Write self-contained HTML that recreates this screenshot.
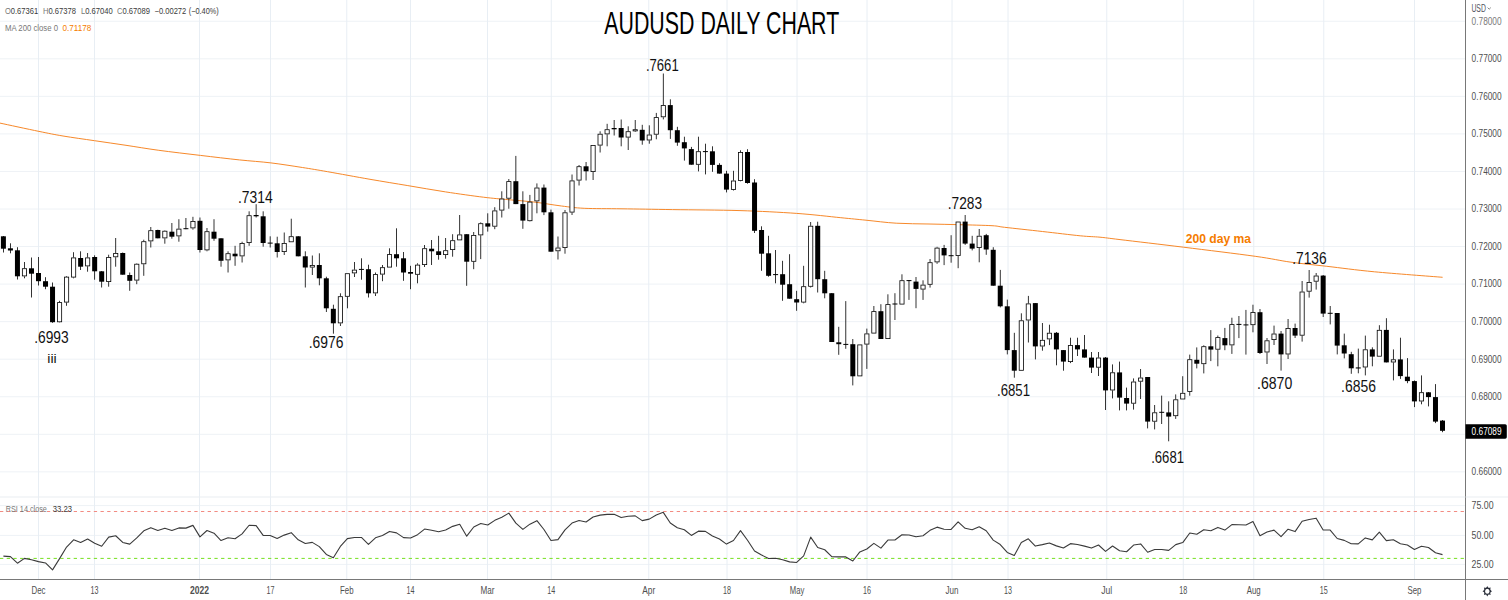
<!DOCTYPE html>
<html><head><meta charset="utf-8"><title>AUDUSD Daily Chart</title>
<style>
html,body{margin:0;padding:0;background:#fff;overflow:hidden}
svg{display:block}
.gh{stroke:#eef2f6;stroke-width:1}
.gv{stroke:#e8eef4;stroke-width:1}
text{font-family:"Liberation Sans",sans-serif}
.ax text,.ax{font-size:10px;fill:#4f4f4f}
.tx text{font-size:10.6px;fill:#4f4f4f}
.lg{font-size:8.6px;fill:#3a3a3a}
.lk{fill:#777}
.an text,.an{font-size:16.8px;fill:#111}
</style></head>
<body><svg width="1508" height="600" viewBox="0 0 1508 600">
<rect width="1508" height="600" fill="#fff"/>
<line x1="0" y1="21.25" x2="1465.0" y2="21.25" class="gh"/>
<line x1="0" y1="58.8" x2="1465.0" y2="58.8" class="gh"/>
<line x1="0" y1="96.35" x2="1465.0" y2="96.35" class="gh"/>
<line x1="0" y1="133.9" x2="1465.0" y2="133.9" class="gh"/>
<line x1="0" y1="171.45" x2="1465.0" y2="171.45" class="gh"/>
<line x1="0" y1="209" x2="1465.0" y2="209" class="gh"/>
<line x1="0" y1="246.55" x2="1465.0" y2="246.55" class="gh"/>
<line x1="0" y1="284.1" x2="1465.0" y2="284.1" class="gh"/>
<line x1="0" y1="321.65" x2="1465.0" y2="321.65" class="gh"/>
<line x1="0" y1="359.2" x2="1465.0" y2="359.2" class="gh"/>
<line x1="0" y1="396.75" x2="1465.0" y2="396.75" class="gh"/>
<line x1="0" y1="434.3" x2="1465.0" y2="434.3" class="gh"/>
<line x1="0" y1="471.85" x2="1465.0" y2="471.85" class="gh"/>
<line x1="0" y1="505.6" x2="1465.0" y2="505.6" class="gh"/>
<line x1="0" y1="535.4" x2="1465.0" y2="535.4" class="gh"/>
<line x1="0" y1="564.4" x2="1465.0" y2="564.4" class="gh"/>
<line x1="38.5" y1="0" x2="38.5" y2="579.0" class="gv"/>
<line x1="94.5" y1="0" x2="94.5" y2="579.0" class="gv"/>
<line x1="199.5" y1="0" x2="199.5" y2="579.0" class="gv"/>
<line x1="270.5" y1="0" x2="270.5" y2="579.0" class="gv"/>
<line x1="346.75" y1="0" x2="346.75" y2="579.0" class="gv"/>
<line x1="410.5" y1="0" x2="410.5" y2="579.0" class="gv"/>
<line x1="487.5" y1="0" x2="487.5" y2="579.0" class="gv"/>
<line x1="551.25" y1="0" x2="551.25" y2="579.0" class="gv"/>
<line x1="648.75" y1="0" x2="648.75" y2="579.0" class="gv"/>
<line x1="727" y1="0" x2="727" y2="579.0" class="gv"/>
<line x1="797" y1="0" x2="797" y2="579.0" class="gv"/>
<line x1="867" y1="0" x2="867" y2="579.0" class="gv"/>
<line x1="952" y1="0" x2="952" y2="579.0" class="gv"/>
<line x1="1008" y1="0" x2="1008" y2="579.0" class="gv"/>
<line x1="1106.75" y1="0" x2="1106.75" y2="579.0" class="gv"/>
<line x1="1183.25" y1="0" x2="1183.25" y2="579.0" class="gv"/>
<line x1="1253.75" y1="0" x2="1253.75" y2="579.0" class="gv"/>
<line x1="1323.75" y1="0" x2="1323.75" y2="579.0" class="gv"/>
<line x1="1414.5" y1="0" x2="1414.5" y2="579.0" class="gv"/>
<line x1="0" y1="497" x2="1508" y2="497" stroke="#eaedf1" stroke-width="1.2"/>
<line x1="0" y1="511.5" x2="1465.0" y2="511.5" stroke="#f28b82" stroke-width="1" stroke-dasharray="3.3 3.4"/>
<line x1="0" y1="558.4" x2="1465.0" y2="558.4" stroke="#76e020" stroke-width="1" stroke-dasharray="3.3 3.4"/>
<path fill="none" stroke="#f5821f" stroke-width="0.95" d="M0.0,123.10 C6.5,124.48 28.5,129.25 39.0,131.40 C49.5,133.55 53.8,134.45 63.0,136.00 C72.2,137.55 84.0,139.15 94.5,140.70 C105.0,142.25 115.3,143.70 126.0,145.30 C136.7,146.90 146.4,148.62 158.8,150.30 C171.2,151.98 187.0,153.80 200.4,155.40 C213.8,157.00 227.7,158.65 239.4,159.90 C251.2,161.15 260.4,161.63 270.9,162.90 C281.4,164.17 292.9,166.03 302.4,167.50 C311.8,168.97 316.3,169.73 327.6,171.70 C338.9,173.67 356.6,176.98 370.0,179.30 C383.4,181.62 395.2,183.50 407.8,185.60 C420.4,187.70 433.0,189.97 445.6,191.90 C458.2,193.83 472.9,195.90 483.4,197.20 C493.9,198.50 500.2,198.90 508.6,199.70 C517.0,200.50 525.0,200.95 533.8,202.00 C542.6,203.05 553.1,204.95 561.5,206.00 C569.9,207.05 574.1,207.83 584.2,208.30 C594.3,208.77 607.3,208.58 622.0,208.80 C636.7,209.02 652.7,209.30 672.4,209.60 C692.1,209.90 719.3,209.97 740.0,210.60 C760.7,211.23 779.9,212.22 796.7,213.40 C813.5,214.58 829.2,216.57 840.8,217.70 C852.3,218.83 856.8,219.28 866.0,220.20 C875.2,221.12 885.7,222.57 896.2,223.20 C906.7,223.83 918.5,223.75 929.0,224.00 C939.5,224.25 948.8,224.42 959.3,224.70 C969.8,224.98 984.5,225.27 992.0,225.70 C999.5,226.13 996.2,226.33 1004.6,227.30 C1013.0,228.27 1029.8,230.08 1042.4,231.50 C1055.0,232.92 1070.6,234.85 1080.2,235.80 C1089.8,236.75 1093.4,236.57 1100.0,237.20 C1106.6,237.83 1106.1,237.93 1120.0,239.60 C1133.9,241.27 1161.0,244.42 1183.5,247.20 C1206.0,249.98 1237.3,253.80 1255.2,256.30 C1273.1,258.80 1279.1,260.53 1291.0,262.20 C1302.9,263.87 1312.9,264.70 1326.8,266.30 C1340.7,267.90 1355.2,269.97 1374.5,271.80 C1393.8,273.63 1431.2,276.38 1442.6,277.30"/>
<g fill="#000"><rect x="3.00" y="236.0" width="0.8" height="16.5"/><rect x="0.90" y="236.3" width="5.0" height="12.4"/><rect x="10.02" y="243.3" width="0.8" height="10.0"/><rect x="7.92" y="248.3" width="5.0" height="2.2"/><rect x="17.04" y="247.2" width="0.8" height="32.3"/><rect x="14.94" y="250.3" width="5.0" height="26.0"/><rect x="24.06" y="262.0" width="0.8" height="6.3"/><rect x="24.06" y="276.3" width="0.8" height="2.0"/><rect x="21.96" y="268.3" width="5.0" height="8.0"/><rect x="22.76" y="269.1" width="3.4" height="6.4" fill="#fff"/><rect x="31.08" y="257.5" width="0.8" height="40.0"/><rect x="28.98" y="268.3" width="5.0" height="5.4"/><rect x="38.10" y="257.0" width="0.8" height="28.5"/><rect x="36.00" y="273.0" width="5.0" height="8.2"/><rect x="45.12" y="277.2" width="0.8" height="12.0"/><rect x="43.02" y="281.2" width="5.0" height="5.5"/><rect x="52.14" y="282.5" width="0.8" height="40.3"/><rect x="50.04" y="286.7" width="5.0" height="35.5"/><rect x="59.16" y="300.8" width="0.8" height="1.4"/><rect x="59.16" y="322.2" width="0.8" height="0.3"/><rect x="57.06" y="302.2" width="5.0" height="20.0"/><rect x="57.86" y="303.0" width="3.4" height="18.4" fill="#fff"/><rect x="66.18" y="276.0" width="0.8" height="0.7"/><rect x="66.18" y="302.5" width="0.8" height="3.3"/><rect x="64.08" y="276.7" width="5.0" height="25.8"/><rect x="64.88" y="277.5" width="3.4" height="24.2" fill="#fff"/><rect x="73.20" y="252.2" width="0.8" height="5.3"/><rect x="73.20" y="277.5" width="0.8" height="0.8"/><rect x="71.10" y="257.5" width="5.0" height="20.0"/><rect x="71.90" y="258.3" width="3.4" height="18.4" fill="#fff"/><rect x="80.22" y="251.3" width="0.8" height="18.7"/><rect x="78.12" y="258.0" width="5.0" height="8.7"/><rect x="87.24" y="253.0" width="0.8" height="4.5"/><rect x="87.24" y="266.3" width="0.8" height="5.4"/><rect x="85.14" y="257.5" width="5.0" height="8.8"/><rect x="85.94" y="258.3" width="3.4" height="7.2" fill="#fff"/><rect x="94.26" y="255.3" width="0.8" height="24.4"/><rect x="92.16" y="257.0" width="5.0" height="14.3"/><rect x="101.28" y="271.0" width="0.8" height="16.5"/><rect x="99.18" y="271.3" width="5.0" height="10.4"/><rect x="108.30" y="254.7" width="0.8" height="2.3"/><rect x="108.30" y="282.0" width="0.8" height="4.7"/><rect x="106.20" y="257.0" width="5.0" height="25.0"/><rect x="107.00" y="257.8" width="3.4" height="23.4" fill="#fff"/><rect x="115.32" y="238.0" width="0.8" height="15.0"/><rect x="115.32" y="257.2" width="0.8" height="9.5"/><rect x="113.22" y="253.0" width="5.0" height="4.2"/><rect x="114.02" y="253.8" width="3.4" height="2.6" fill="#fff"/><rect x="122.34" y="252.5" width="0.8" height="22.2"/><rect x="120.24" y="253.0" width="5.0" height="21.7"/><rect x="129.36" y="272.5" width="0.8" height="18.3"/><rect x="127.26" y="275.0" width="5.0" height="5.8"/><rect x="136.38" y="263.3" width="0.8" height="0.5"/><rect x="136.38" y="280.5" width="0.8" height="3.7"/><rect x="134.28" y="263.8" width="5.0" height="16.7"/><rect x="135.08" y="264.6" width="3.4" height="15.1" fill="#fff"/><rect x="143.40" y="239.7" width="0.8" height="1.6"/><rect x="143.40" y="264.2" width="0.8" height="11.6"/><rect x="141.30" y="241.3" width="5.0" height="22.9"/><rect x="142.10" y="242.1" width="3.4" height="21.3" fill="#fff"/><rect x="150.42" y="227.0" width="0.8" height="3.3"/><rect x="150.42" y="241.3" width="0.8" height="6.2"/><rect x="148.32" y="230.3" width="5.0" height="11.0"/><rect x="149.12" y="231.1" width="3.4" height="9.4" fill="#fff"/><rect x="157.44" y="229.7" width="0.8" height="8.6"/><rect x="155.34" y="230.0" width="5.0" height="8.3"/><rect x="164.46" y="230.3" width="0.8" height="0.5"/><rect x="164.46" y="238.3" width="0.8" height="5.4"/><rect x="162.36" y="230.8" width="5.0" height="7.5"/><rect x="163.16" y="231.6" width="3.4" height="5.9" fill="#fff"/><rect x="171.48" y="223.0" width="0.8" height="15.7"/><rect x="169.38" y="231.7" width="5.0" height="5.0"/><rect x="178.50" y="219.2" width="0.8" height="9.5"/><rect x="178.50" y="236.3" width="0.8" height="5.4"/><rect x="176.40" y="228.7" width="5.0" height="7.6"/><rect x="177.20" y="229.5" width="3.4" height="6.0" fill="#fff"/><rect x="185.52" y="218.0" width="0.8" height="11.2"/><rect x="183.42" y="228.2" width="5.0" height="1.0"/><rect x="192.54" y="216.8" width="0.8" height="4.2"/><rect x="192.54" y="228.3" width="0.8" height="1.4"/><rect x="190.44" y="221.0" width="5.0" height="7.3"/><rect x="191.24" y="221.8" width="3.4" height="5.7" fill="#fff"/><rect x="199.56" y="217.5" width="0.8" height="35.0"/><rect x="197.46" y="220.8" width="5.0" height="29.2"/><rect x="206.58" y="228.0" width="0.8" height="3.3"/><rect x="206.58" y="250.3" width="0.8" height="1.0"/><rect x="204.48" y="231.3" width="5.0" height="19.0"/><rect x="205.28" y="232.1" width="3.4" height="17.4" fill="#fff"/><rect x="213.60" y="219.2" width="0.8" height="21.6"/><rect x="211.50" y="231.7" width="5.0" height="7.0"/><rect x="220.62" y="238.3" width="0.8" height="28.4"/><rect x="218.52" y="238.3" width="5.0" height="22.5"/><rect x="227.64" y="251.3" width="0.8" height="2.0"/><rect x="227.64" y="260.3" width="0.8" height="12.2"/><rect x="225.54" y="253.3" width="5.0" height="7.0"/><rect x="226.34" y="254.1" width="3.4" height="5.4" fill="#fff"/><rect x="234.66" y="245.8" width="0.8" height="20.0"/><rect x="232.56" y="253.7" width="5.0" height="2.6"/><rect x="241.68" y="241.7" width="0.8" height="1.3"/><rect x="241.68" y="256.3" width="0.8" height="6.2"/><rect x="239.58" y="243.0" width="5.0" height="13.3"/><rect x="240.38" y="243.8" width="3.4" height="11.7" fill="#fff"/><rect x="248.70" y="211.3" width="0.8" height="4.0"/><rect x="248.70" y="243.0" width="0.8" height="2.8"/><rect x="246.60" y="215.3" width="5.0" height="27.7"/><rect x="247.40" y="216.1" width="3.4" height="26.1" fill="#fff"/><rect x="255.72" y="204.2" width="0.8" height="13.3"/><rect x="253.62" y="215.0" width="5.0" height="1.3"/><rect x="262.74" y="211.3" width="0.8" height="35.4"/><rect x="260.64" y="216.3" width="5.0" height="26.7"/><rect x="269.76" y="236.3" width="0.8" height="11.2"/><rect x="267.66" y="242.6" width="5.0" height="1.0"/><rect x="276.78" y="236.7" width="0.8" height="20.8"/><rect x="274.68" y="243.3" width="5.0" height="8.7"/><rect x="283.80" y="232.5" width="0.8" height="10.5"/><rect x="283.80" y="252.0" width="0.8" height="3.0"/><rect x="281.70" y="243.0" width="5.0" height="9.0"/><rect x="282.50" y="243.8" width="3.4" height="7.4" fill="#fff"/><rect x="290.82" y="218.7" width="0.8" height="17.6"/><rect x="288.72" y="236.3" width="5.0" height="5.9"/><rect x="289.52" y="237.1" width="3.4" height="4.3" fill="#fff"/><rect x="297.84" y="236.0" width="0.8" height="20.3"/><rect x="295.74" y="236.3" width="5.0" height="20.0"/><rect x="304.86" y="251.3" width="0.8" height="36.2"/><rect x="302.76" y="256.3" width="5.0" height="11.2"/><rect x="311.88" y="255.5" width="0.8" height="9.5"/><rect x="311.88" y="267.5" width="0.8" height="7.5"/><rect x="309.78" y="265.0" width="5.0" height="2.5"/><rect x="310.58" y="265.8" width="3.4" height="0.9" fill="#fff"/><rect x="318.90" y="253.3" width="0.8" height="32.0"/><rect x="316.80" y="265.0" width="5.0" height="13.3"/><rect x="325.92" y="276.7" width="0.8" height="35.3"/><rect x="323.82" y="278.3" width="5.0" height="30.0"/><rect x="332.94" y="304.7" width="0.8" height="29.0"/><rect x="330.84" y="308.8" width="5.0" height="14.5"/><rect x="339.96" y="293.3" width="0.8" height="3.0"/><rect x="339.96" y="323.3" width="0.8" height="2.7"/><rect x="337.86" y="296.3" width="5.0" height="27.0"/><rect x="338.66" y="297.1" width="3.4" height="25.4" fill="#fff"/><rect x="346.98" y="296.7" width="0.8" height="11.6"/><rect x="344.88" y="273.3" width="5.0" height="23.4"/><rect x="345.68" y="274.1" width="3.4" height="21.8" fill="#fff"/><rect x="354.00" y="262.0" width="0.8" height="7.7"/><rect x="354.00" y="273.3" width="0.8" height="3.7"/><rect x="351.90" y="269.7" width="5.0" height="3.6"/><rect x="352.70" y="270.5" width="3.4" height="2.0" fill="#fff"/><rect x="361.02" y="258.3" width="0.8" height="21.4"/><rect x="358.92" y="268.9" width="5.0" height="1.0"/><rect x="368.04" y="264.7" width="0.8" height="32.8"/><rect x="365.94" y="269.2" width="5.0" height="24.1"/><rect x="375.06" y="272.5" width="0.8" height="1.7"/><rect x="375.06" y="293.3" width="0.8" height="2.7"/><rect x="372.96" y="274.2" width="5.0" height="19.1"/><rect x="373.76" y="275.0" width="3.4" height="17.5" fill="#fff"/><rect x="382.08" y="265.0" width="0.8" height="2.3"/><rect x="382.08" y="274.5" width="0.8" height="6.7"/><rect x="379.98" y="267.3" width="5.0" height="7.2"/><rect x="380.78" y="268.1" width="3.4" height="5.6" fill="#fff"/><rect x="389.10" y="248.3" width="0.8" height="5.9"/><rect x="387.00" y="254.2" width="5.0" height="13.3"/><rect x="387.80" y="255.0" width="3.4" height="11.7" fill="#fff"/><rect x="396.12" y="228.3" width="0.8" height="38.4"/><rect x="394.02" y="254.2" width="5.0" height="4.1"/><rect x="403.14" y="252.0" width="0.8" height="28.8"/><rect x="401.04" y="258.3" width="5.0" height="14.2"/><rect x="410.16" y="265.8" width="0.8" height="23.4"/><rect x="408.06" y="272.0" width="5.0" height="1.7"/><rect x="417.18" y="263.3" width="0.8" height="1.4"/><rect x="417.18" y="274.7" width="0.8" height="8.6"/><rect x="415.08" y="264.7" width="5.0" height="10.0"/><rect x="415.88" y="265.5" width="3.4" height="8.4" fill="#fff"/><rect x="424.20" y="245.0" width="0.8" height="3.3"/><rect x="424.20" y="265.0" width="0.8" height="2.0"/><rect x="422.10" y="248.3" width="5.0" height="16.7"/><rect x="422.90" y="249.1" width="3.4" height="15.1" fill="#fff"/><rect x="431.22" y="240.0" width="0.8" height="25.0"/><rect x="429.12" y="248.7" width="5.0" height="2.6"/><rect x="438.24" y="235.8" width="0.8" height="23.9"/><rect x="436.14" y="251.3" width="5.0" height="3.7"/><rect x="445.26" y="238.0" width="0.8" height="12.3"/><rect x="445.26" y="255.0" width="0.8" height="3.7"/><rect x="443.16" y="250.3" width="5.0" height="4.7"/><rect x="443.96" y="251.1" width="3.4" height="3.1" fill="#fff"/><rect x="452.28" y="234.2" width="0.8" height="6.1"/><rect x="452.28" y="250.0" width="0.8" height="6.7"/><rect x="450.18" y="240.3" width="5.0" height="9.7"/><rect x="450.98" y="241.1" width="3.4" height="8.1" fill="#fff"/><rect x="459.30" y="215.0" width="0.8" height="19.5"/><rect x="457.20" y="234.5" width="5.0" height="5.8"/><rect x="458.00" y="235.3" width="3.4" height="4.2" fill="#fff"/><rect x="466.32" y="234.2" width="0.8" height="51.6"/><rect x="464.22" y="234.2" width="5.0" height="27.5"/><rect x="473.34" y="232.0" width="0.8" height="3.0"/><rect x="473.34" y="261.7" width="0.8" height="7.5"/><rect x="471.24" y="235.0" width="5.0" height="26.7"/><rect x="472.04" y="235.8" width="3.4" height="25.1" fill="#fff"/><rect x="480.36" y="222.4" width="0.8" height="0.9"/><rect x="480.36" y="235.3" width="0.8" height="23.8"/><rect x="478.26" y="223.3" width="5.0" height="12.0"/><rect x="479.06" y="224.1" width="3.4" height="10.4" fill="#fff"/><rect x="487.38" y="213.3" width="0.8" height="18.3"/><rect x="485.28" y="223.3" width="5.0" height="3.3"/><rect x="494.40" y="207.2" width="0.8" height="3.3"/><rect x="494.40" y="226.6" width="0.8" height="2.6"/><rect x="492.30" y="210.5" width="5.0" height="16.1"/><rect x="493.10" y="211.3" width="3.4" height="14.5" fill="#fff"/><rect x="501.42" y="191.3" width="0.8" height="7.3"/><rect x="501.42" y="210.5" width="0.8" height="7.0"/><rect x="499.32" y="198.6" width="5.0" height="11.9"/><rect x="500.12" y="199.4" width="3.4" height="10.3" fill="#fff"/><rect x="508.44" y="179.0" width="0.8" height="2.2"/><rect x="508.44" y="198.6" width="0.8" height="10.1"/><rect x="506.34" y="181.2" width="5.0" height="17.4"/><rect x="507.14" y="182.0" width="3.4" height="15.8" fill="#fff"/><rect x="515.46" y="155.9" width="0.8" height="48.2"/><rect x="513.36" y="181.2" width="5.0" height="22.9"/><rect x="522.48" y="191.3" width="0.8" height="37.5"/><rect x="520.38" y="204.1" width="5.0" height="16.5"/><rect x="529.50" y="194.9" width="0.8" height="6.8"/><rect x="529.50" y="221.1" width="0.8" height="0.4"/><rect x="527.40" y="201.7" width="5.0" height="19.4"/><rect x="528.20" y="202.5" width="3.4" height="17.8" fill="#fff"/><rect x="536.52" y="183.4" width="0.8" height="4.2"/><rect x="536.52" y="201.3" width="0.8" height="12.0"/><rect x="534.42" y="187.6" width="5.0" height="13.7"/><rect x="535.22" y="188.4" width="3.4" height="12.1" fill="#fff"/><rect x="543.54" y="184.5" width="0.8" height="30.6"/><rect x="541.44" y="187.6" width="5.0" height="24.7"/><rect x="550.56" y="209.6" width="0.8" height="42.1"/><rect x="548.46" y="212.3" width="5.0" height="39.4"/><rect x="557.58" y="236.5" width="0.8" height="11.1"/><rect x="557.58" y="251.2" width="0.8" height="8.3"/><rect x="555.48" y="247.6" width="5.0" height="3.6"/><rect x="556.28" y="248.4" width="3.4" height="2.0" fill="#fff"/><rect x="564.60" y="210.0" width="0.8" height="2.4"/><rect x="564.60" y="248.0" width="0.8" height="5.7"/><rect x="562.50" y="212.4" width="5.0" height="35.6"/><rect x="563.30" y="213.2" width="3.4" height="34.0" fill="#fff"/><rect x="571.62" y="174.5" width="0.8" height="6.0"/><rect x="571.62" y="212.5" width="0.8" height="2.5"/><rect x="569.52" y="180.5" width="5.0" height="32.0"/><rect x="570.32" y="181.3" width="3.4" height="30.4" fill="#fff"/><rect x="578.64" y="165.0" width="0.8" height="1.3"/><rect x="578.64" y="180.5" width="0.8" height="5.0"/><rect x="576.54" y="166.3" width="5.0" height="14.2"/><rect x="577.34" y="167.1" width="3.4" height="12.6" fill="#fff"/><rect x="585.66" y="162.0" width="0.8" height="18.5"/><rect x="583.56" y="166.3" width="5.0" height="5.0"/><rect x="592.68" y="172.0" width="0.8" height="8.0"/><rect x="590.58" y="145.0" width="5.0" height="27.0"/><rect x="591.38" y="145.8" width="3.4" height="25.4" fill="#fff"/><rect x="599.70" y="131.3" width="0.8" height="2.5"/><rect x="599.70" y="145.5" width="0.8" height="7.0"/><rect x="597.60" y="133.8" width="5.0" height="11.7"/><rect x="598.40" y="134.6" width="3.4" height="10.1" fill="#fff"/><rect x="606.72" y="123.8" width="0.8" height="5.5"/><rect x="606.72" y="134.3" width="0.8" height="12.0"/><rect x="604.62" y="129.3" width="5.0" height="5.0"/><rect x="605.42" y="130.1" width="3.4" height="3.4" fill="#fff"/><rect x="613.74" y="120.0" width="0.8" height="15.5"/><rect x="611.64" y="128.0" width="5.0" height="1.3"/><rect x="620.76" y="119.5" width="0.8" height="26.8"/><rect x="618.66" y="128.0" width="5.0" height="9.5"/><rect x="627.78" y="126.3" width="0.8" height="5.0"/><rect x="627.78" y="137.5" width="0.8" height="12.5"/><rect x="625.68" y="131.3" width="5.0" height="6.2"/><rect x="626.48" y="132.1" width="3.4" height="4.6" fill="#fff"/><rect x="634.80" y="120.0" width="0.8" height="9.3"/><rect x="634.80" y="131.3" width="0.8" height="0.7"/><rect x="632.70" y="129.3" width="5.0" height="2.0"/><rect x="633.50" y="130.1" width="3.4" height="0.4" fill="#fff"/><rect x="641.82" y="124.8" width="0.8" height="19.9"/><rect x="639.72" y="129.8" width="5.0" height="10.7"/><rect x="648.84" y="125.3" width="0.8" height="9.3"/><rect x="648.84" y="140.4" width="0.8" height="3.3"/><rect x="646.74" y="134.6" width="5.0" height="5.8"/><rect x="647.54" y="135.4" width="3.4" height="4.2" fill="#fff"/><rect x="655.86" y="112.9" width="0.8" height="4.3"/><rect x="655.86" y="134.6" width="0.8" height="4.7"/><rect x="653.76" y="117.2" width="5.0" height="17.4"/><rect x="654.56" y="118.0" width="3.4" height="15.8" fill="#fff"/><rect x="662.88" y="73.5" width="0.8" height="31.6"/><rect x="662.88" y="117.2" width="0.8" height="2.2"/><rect x="660.78" y="105.1" width="5.0" height="12.1"/><rect x="661.58" y="105.9" width="3.4" height="10.5" fill="#fff"/><rect x="669.90" y="99.3" width="0.8" height="39.6"/><rect x="667.80" y="105.1" width="5.0" height="25.1"/><rect x="676.92" y="126.8" width="0.8" height="19.0"/><rect x="674.82" y="130.2" width="5.0" height="12.4"/><rect x="683.94" y="136.7" width="0.8" height="23.9"/><rect x="681.84" y="142.2" width="5.0" height="6.2"/><rect x="690.96" y="146.9" width="0.8" height="17.8"/><rect x="688.86" y="149.1" width="5.0" height="15.6"/><rect x="697.98" y="136.7" width="0.8" height="14.6"/><rect x="697.98" y="164.7" width="0.8" height="6.7"/><rect x="695.88" y="151.3" width="5.0" height="13.4"/><rect x="696.68" y="152.1" width="3.4" height="11.8" fill="#fff"/><rect x="705.00" y="143.7" width="0.8" height="30.7"/><rect x="702.90" y="151.1" width="5.0" height="1.0"/><rect x="712.02" y="146.3" width="0.8" height="25.5"/><rect x="709.92" y="151.3" width="5.0" height="13.6"/><rect x="719.04" y="163.2" width="0.8" height="10.4"/><rect x="716.94" y="164.9" width="5.0" height="8.7"/><rect x="726.06" y="170.8" width="0.8" height="21.6"/><rect x="723.96" y="173.6" width="5.0" height="16.0"/><rect x="733.08" y="170.8" width="0.8" height="9.8"/><rect x="733.08" y="189.8" width="0.8" height="0.7"/><rect x="730.98" y="180.6" width="5.0" height="9.2"/><rect x="731.78" y="181.4" width="3.4" height="7.6" fill="#fff"/><rect x="740.10" y="150.3" width="0.8" height="1.7"/><rect x="740.10" y="180.8" width="0.8" height="0.5"/><rect x="738.00" y="152.0" width="5.0" height="28.8"/><rect x="738.80" y="152.8" width="3.4" height="27.2" fill="#fff"/><rect x="747.12" y="149.2" width="0.8" height="34.5"/><rect x="745.02" y="152.0" width="5.0" height="31.0"/><rect x="754.14" y="179.2" width="0.8" height="53.8"/><rect x="752.04" y="182.5" width="5.0" height="48.3"/><rect x="761.16" y="226.3" width="0.8" height="44.5"/><rect x="759.06" y="230.0" width="5.0" height="23.7"/><rect x="768.18" y="235.8" width="0.8" height="40.9"/><rect x="766.08" y="253.3" width="5.0" height="22.5"/><rect x="775.20" y="250.0" width="0.8" height="33.3"/><rect x="773.10" y="274.1" width="5.0" height="1.0"/><rect x="782.22" y="260.8" width="0.8" height="40.0"/><rect x="780.12" y="274.2" width="5.0" height="10.5"/><rect x="789.24" y="254.2" width="0.8" height="44.5"/><rect x="787.14" y="284.2" width="5.0" height="14.5"/><rect x="796.26" y="290.8" width="0.8" height="20.0"/><rect x="794.16" y="299.2" width="5.0" height="3.3"/><rect x="803.28" y="265.8" width="0.8" height="20.5"/><rect x="803.28" y="302.5" width="0.8" height="0.8"/><rect x="801.18" y="286.3" width="5.0" height="16.2"/><rect x="801.98" y="287.1" width="3.4" height="14.6" fill="#fff"/><rect x="810.30" y="222.0" width="0.8" height="3.8"/><rect x="810.30" y="286.7" width="0.8" height="0.8"/><rect x="808.20" y="225.8" width="5.0" height="60.9"/><rect x="809.00" y="226.6" width="3.4" height="59.3" fill="#fff"/><rect x="817.32" y="221.7" width="0.8" height="70.8"/><rect x="815.22" y="225.8" width="5.0" height="53.4"/><rect x="824.34" y="270.8" width="0.8" height="27.5"/><rect x="822.24" y="279.2" width="5.0" height="14.1"/><rect x="831.36" y="293.0" width="0.8" height="49.0"/><rect x="829.26" y="293.2" width="5.0" height="48.8"/><rect x="838.38" y="326.8" width="0.8" height="28.0"/><rect x="836.28" y="342.3" width="5.0" height="1.9"/><rect x="845.40" y="301.1" width="0.8" height="47.7"/><rect x="843.30" y="343.9" width="5.0" height="1.0"/><rect x="852.42" y="339.0" width="0.8" height="46.4"/><rect x="850.32" y="344.2" width="5.0" height="32.1"/><rect x="857.34" y="344.5" width="5.0" height="31.8"/><rect x="858.14" y="345.3" width="3.4" height="30.2" fill="#fff"/><rect x="866.46" y="328.6" width="0.8" height="4.9"/><rect x="866.46" y="344.5" width="0.8" height="24.4"/><rect x="864.36" y="333.5" width="5.0" height="11.0"/><rect x="865.16" y="334.3" width="3.4" height="9.4" fill="#fff"/><rect x="873.48" y="306.0" width="0.8" height="5.2"/><rect x="871.38" y="311.2" width="5.0" height="22.3"/><rect x="872.18" y="312.0" width="3.4" height="20.7" fill="#fff"/><rect x="880.50" y="304.2" width="0.8" height="34.8"/><rect x="878.40" y="311.2" width="5.0" height="27.8"/><rect x="887.52" y="294.3" width="0.8" height="9.9"/><rect x="885.42" y="304.2" width="5.0" height="34.8"/><rect x="886.22" y="305.0" width="3.4" height="33.2" fill="#fff"/><rect x="894.54" y="293.2" width="0.8" height="26.8"/><rect x="892.44" y="303.5" width="5.0" height="1.0"/><rect x="901.56" y="274.3" width="0.8" height="6.0"/><rect x="899.46" y="280.3" width="5.0" height="24.2"/><rect x="900.26" y="281.1" width="3.4" height="22.6" fill="#fff"/><rect x="908.58" y="280.0" width="0.8" height="19.9"/><rect x="906.48" y="280.1" width="5.0" height="1.0"/><rect x="915.60" y="277.0" width="0.8" height="31.2"/><rect x="913.50" y="281.6" width="5.0" height="7.3"/><rect x="922.62" y="280.3" width="0.8" height="4.4"/><rect x="922.62" y="289.5" width="0.8" height="10.4"/><rect x="920.52" y="284.7" width="5.0" height="4.8"/><rect x="921.32" y="285.5" width="3.4" height="3.2" fill="#fff"/><rect x="929.64" y="259.0" width="0.8" height="3.3"/><rect x="929.64" y="284.7" width="0.8" height="2.9"/><rect x="927.54" y="262.3" width="5.0" height="22.4"/><rect x="928.34" y="263.1" width="3.4" height="20.8" fill="#fff"/><rect x="936.66" y="246.8" width="0.8" height="0.9"/><rect x="936.66" y="262.3" width="0.8" height="1.5"/><rect x="934.56" y="247.7" width="5.0" height="14.6"/><rect x="935.36" y="248.5" width="3.4" height="13.0" fill="#fff"/><rect x="943.68" y="244.9" width="0.8" height="20.2"/><rect x="941.58" y="248.0" width="5.0" height="7.4"/><rect x="950.70" y="235.2" width="0.8" height="27.5"/><rect x="948.60" y="255.2" width="5.0" height="1.0"/><rect x="957.72" y="255.9" width="0.8" height="12.3"/><rect x="955.62" y="221.6" width="5.0" height="34.3"/><rect x="956.42" y="222.4" width="3.4" height="32.7" fill="#fff"/><rect x="964.74" y="215.0" width="0.8" height="29.9"/><rect x="962.64" y="221.6" width="5.0" height="22.0"/><rect x="971.76" y="235.8" width="0.8" height="14.6"/><rect x="969.66" y="243.6" width="5.0" height="5.0"/><rect x="978.78" y="229.0" width="0.8" height="6.8"/><rect x="978.78" y="248.0" width="0.8" height="14.3"/><rect x="976.68" y="235.8" width="5.0" height="12.2"/><rect x="977.48" y="236.6" width="3.4" height="10.6" fill="#fff"/><rect x="985.80" y="233.9" width="0.8" height="20.9"/><rect x="983.70" y="235.2" width="5.0" height="14.3"/><rect x="992.82" y="247.2" width="0.8" height="38.5"/><rect x="990.72" y="249.8" width="5.0" height="35.9"/><rect x="999.84" y="269.9" width="0.8" height="37.5"/><rect x="997.74" y="285.7" width="5.0" height="20.6"/><rect x="1006.86" y="299.6" width="0.8" height="54.8"/><rect x="1004.76" y="306.3" width="5.0" height="43.8"/><rect x="1013.88" y="332.8" width="0.8" height="44.9"/><rect x="1011.78" y="350.1" width="5.0" height="20.6"/><rect x="1020.90" y="313.3" width="0.8" height="7.1"/><rect x="1018.80" y="320.4" width="5.0" height="50.3"/><rect x="1019.60" y="321.2" width="3.4" height="48.7" fill="#fff"/><rect x="1027.92" y="295.9" width="0.8" height="7.6"/><rect x="1027.92" y="320.4" width="0.8" height="22.1"/><rect x="1025.82" y="303.5" width="5.0" height="16.9"/><rect x="1026.62" y="304.3" width="3.4" height="15.3" fill="#fff"/><rect x="1034.94" y="303.1" width="0.8" height="56.3"/><rect x="1032.84" y="303.1" width="5.0" height="43.3"/><rect x="1041.96" y="323.0" width="0.8" height="16.9"/><rect x="1041.96" y="346.4" width="0.8" height="4.3"/><rect x="1039.86" y="339.9" width="5.0" height="6.5"/><rect x="1040.66" y="340.7" width="3.4" height="4.9" fill="#fff"/><rect x="1048.98" y="324.7" width="0.8" height="8.1"/><rect x="1048.98" y="339.3" width="0.8" height="5.8"/><rect x="1046.88" y="332.8" width="5.0" height="6.5"/><rect x="1047.68" y="333.6" width="3.4" height="4.9" fill="#fff"/><rect x="1056.00" y="332.0" width="0.8" height="33.3"/><rect x="1053.90" y="332.8" width="5.0" height="16.6"/><rect x="1063.02" y="350.0" width="0.8" height="20.7"/><rect x="1060.92" y="350.1" width="5.0" height="11.5"/><rect x="1070.04" y="337.7" width="0.8" height="7.4"/><rect x="1070.04" y="362.0" width="0.8" height="1.1"/><rect x="1067.94" y="345.1" width="5.0" height="16.9"/><rect x="1068.74" y="345.9" width="3.4" height="15.3" fill="#fff"/><rect x="1077.06" y="337.7" width="0.8" height="18.3"/><rect x="1074.96" y="345.1" width="5.0" height="4.3"/><rect x="1084.08" y="335.0" width="0.8" height="22.6"/><rect x="1081.98" y="349.4" width="5.0" height="8.2"/><rect x="1091.10" y="352.0" width="0.8" height="21.0"/><rect x="1089.00" y="357.6" width="5.0" height="10.0"/><rect x="1098.12" y="352.0" width="0.8" height="5.6"/><rect x="1098.12" y="367.6" width="0.8" height="8.4"/><rect x="1096.02" y="357.6" width="5.0" height="10.0"/><rect x="1096.82" y="358.4" width="3.4" height="8.4" fill="#fff"/><rect x="1105.14" y="357.0" width="0.8" height="53.0"/><rect x="1103.04" y="357.6" width="5.0" height="32.8"/><rect x="1112.16" y="364.4" width="0.8" height="8.0"/><rect x="1112.16" y="390.4" width="0.8" height="8.0"/><rect x="1110.06" y="372.4" width="5.0" height="18.0"/><rect x="1110.86" y="373.2" width="3.4" height="16.4" fill="#fff"/><rect x="1119.18" y="361.6" width="0.8" height="48.8"/><rect x="1117.08" y="372.4" width="5.0" height="25.2"/><rect x="1126.20" y="387.6" width="0.8" height="22.8"/><rect x="1124.10" y="398.0" width="5.0" height="5.6"/><rect x="1133.22" y="378.4" width="0.8" height="3.2"/><rect x="1133.22" y="403.6" width="0.8" height="6.0"/><rect x="1131.12" y="381.6" width="5.0" height="22.0"/><rect x="1131.92" y="382.4" width="3.4" height="20.4" fill="#fff"/><rect x="1140.24" y="369.0" width="0.8" height="8.6"/><rect x="1140.24" y="381.6" width="0.8" height="17.4"/><rect x="1138.14" y="377.6" width="5.0" height="4.0"/><rect x="1138.94" y="378.4" width="3.4" height="2.4" fill="#fff"/><rect x="1147.26" y="377.0" width="0.8" height="51.4"/><rect x="1145.16" y="377.0" width="5.0" height="44.6"/><rect x="1154.28" y="405.0" width="0.8" height="7.4"/><rect x="1154.28" y="421.6" width="0.8" height="7.8"/><rect x="1152.18" y="412.4" width="5.0" height="9.2"/><rect x="1152.98" y="413.2" width="3.4" height="7.6" fill="#fff"/><rect x="1161.30" y="395.6" width="0.8" height="28.4"/><rect x="1159.20" y="411.8" width="5.0" height="1.0"/><rect x="1168.32" y="401.3" width="0.8" height="40.0"/><rect x="1166.22" y="412.4" width="5.0" height="4.2"/><rect x="1175.34" y="394.4" width="0.8" height="5.0"/><rect x="1175.34" y="416.1" width="0.8" height="2.8"/><rect x="1173.24" y="399.4" width="5.0" height="16.7"/><rect x="1174.04" y="400.2" width="3.4" height="15.1" fill="#fff"/><rect x="1182.36" y="376.2" width="0.8" height="16.7"/><rect x="1180.26" y="392.9" width="5.0" height="6.5"/><rect x="1181.06" y="393.7" width="3.4" height="4.9" fill="#fff"/><rect x="1189.38" y="354.6" width="0.8" height="4.7"/><rect x="1189.38" y="391.8" width="0.8" height="3.9"/><rect x="1187.28" y="359.3" width="5.0" height="32.5"/><rect x="1188.08" y="360.1" width="3.4" height="30.9" fill="#fff"/><rect x="1196.40" y="347.4" width="0.8" height="21.0"/><rect x="1194.30" y="359.8" width="5.0" height="3.9"/><rect x="1203.42" y="345.3" width="0.8" height="1.0"/><rect x="1203.42" y="364.1" width="0.8" height="9.3"/><rect x="1201.32" y="346.3" width="5.0" height="17.8"/><rect x="1202.12" y="347.1" width="3.4" height="16.2" fill="#fff"/><rect x="1210.44" y="330.1" width="0.8" height="31.0"/><rect x="1208.34" y="346.3" width="5.0" height="3.3"/><rect x="1217.46" y="335.5" width="0.8" height="1.7"/><rect x="1217.46" y="349.6" width="0.8" height="16.7"/><rect x="1215.36" y="337.2" width="5.0" height="12.4"/><rect x="1216.16" y="338.0" width="3.4" height="10.8" fill="#fff"/><rect x="1224.48" y="327.9" width="0.8" height="22.3"/><rect x="1222.38" y="338.1" width="5.0" height="7.2"/><rect x="1231.50" y="317.7" width="0.8" height="6.5"/><rect x="1231.50" y="345.3" width="0.8" height="8.6"/><rect x="1229.40" y="324.2" width="5.0" height="21.1"/><rect x="1230.20" y="325.0" width="3.4" height="19.5" fill="#fff"/><rect x="1238.52" y="316.0" width="0.8" height="22.1"/><rect x="1236.42" y="323.9" width="5.0" height="1.0"/><rect x="1245.54" y="309.9" width="0.8" height="44.7"/><rect x="1243.44" y="324.4" width="5.0" height="1.0"/><rect x="1252.56" y="304.7" width="0.8" height="7.4"/><rect x="1252.56" y="325.1" width="0.8" height="7.2"/><rect x="1250.46" y="312.1" width="5.0" height="13.0"/><rect x="1251.26" y="312.9" width="3.4" height="11.4" fill="#fff"/><rect x="1259.58" y="309.0" width="0.8" height="45.0"/><rect x="1257.48" y="312.2" width="5.0" height="40.8"/><rect x="1266.60" y="338.0" width="0.8" height="2.4"/><rect x="1266.60" y="352.4" width="0.8" height="11.6"/><rect x="1264.50" y="340.4" width="5.0" height="12.0"/><rect x="1265.30" y="341.2" width="3.4" height="10.4" fill="#fff"/><rect x="1273.62" y="325.6" width="0.8" height="8.0"/><rect x="1273.62" y="340.0" width="0.8" height="5.0"/><rect x="1271.52" y="333.6" width="5.0" height="6.4"/><rect x="1272.32" y="334.4" width="3.4" height="4.8" fill="#fff"/><rect x="1280.64" y="331.0" width="0.8" height="39.6"/><rect x="1278.54" y="333.6" width="5.0" height="20.8"/><rect x="1287.66" y="319.0" width="0.8" height="9.0"/><rect x="1287.66" y="354.4" width="0.8" height="4.6"/><rect x="1285.56" y="328.0" width="5.0" height="26.4"/><rect x="1286.36" y="328.8" width="3.4" height="24.8" fill="#fff"/><rect x="1294.68" y="323.6" width="0.8" height="14.4"/><rect x="1292.58" y="328.0" width="5.0" height="7.6"/><rect x="1301.70" y="281.0" width="0.8" height="10.6"/><rect x="1301.70" y="335.6" width="0.8" height="6.0"/><rect x="1299.60" y="291.6" width="5.0" height="44.0"/><rect x="1300.40" y="292.4" width="3.4" height="42.4" fill="#fff"/><rect x="1308.72" y="270.0" width="0.8" height="12.0"/><rect x="1308.72" y="291.6" width="0.8" height="6.0"/><rect x="1306.62" y="282.0" width="5.0" height="9.6"/><rect x="1307.42" y="282.8" width="3.4" height="8.0" fill="#fff"/><rect x="1315.74" y="273.0" width="0.8" height="2.6"/><rect x="1315.74" y="281.6" width="0.8" height="8.0"/><rect x="1313.64" y="275.6" width="5.0" height="6.0"/><rect x="1314.44" y="276.4" width="3.4" height="4.4" fill="#fff"/><rect x="1322.76" y="275.0" width="0.8" height="42.0"/><rect x="1320.66" y="275.6" width="5.0" height="38.0"/><rect x="1329.78" y="306.0" width="0.8" height="18.4"/><rect x="1327.68" y="312.8" width="5.0" height="1.0"/><rect x="1336.80" y="313.0" width="0.8" height="41.4"/><rect x="1334.70" y="313.0" width="5.0" height="32.6"/><rect x="1343.82" y="333.6" width="0.8" height="24.8"/><rect x="1341.72" y="345.3" width="5.0" height="8.2"/><rect x="1350.84" y="351.8" width="0.8" height="22.0"/><rect x="1348.74" y="354.2" width="5.0" height="14.1"/><rect x="1357.86" y="348.6" width="0.8" height="24.7"/><rect x="1355.76" y="367.4" width="5.0" height="1.1"/><rect x="1364.88" y="335.6" width="0.8" height="13.8"/><rect x="1364.88" y="367.4" width="0.8" height="8.0"/><rect x="1362.78" y="349.4" width="5.0" height="18.0"/><rect x="1363.58" y="350.2" width="3.4" height="16.4" fill="#fff"/><rect x="1371.90" y="347.3" width="0.8" height="19.0"/><rect x="1369.80" y="349.4" width="5.0" height="7.2"/><rect x="1378.92" y="325.2" width="0.8" height="4.7"/><rect x="1376.82" y="329.9" width="5.0" height="26.7"/><rect x="1377.62" y="330.7" width="3.4" height="25.1" fill="#fff"/><rect x="1385.94" y="318.2" width="0.8" height="44.2"/><rect x="1383.84" y="329.9" width="5.0" height="32.5"/><rect x="1392.96" y="349.4" width="0.8" height="10.0"/><rect x="1392.96" y="362.4" width="0.8" height="18.0"/><rect x="1390.86" y="359.4" width="5.0" height="3.0"/><rect x="1391.66" y="360.2" width="3.4" height="1.4" fill="#fff"/><rect x="1399.98" y="337.7" width="0.8" height="41.2"/><rect x="1397.88" y="359.4" width="5.0" height="16.7"/><rect x="1407.00" y="358.1" width="0.8" height="25.1"/><rect x="1404.90" y="376.7" width="5.0" height="4.4"/><rect x="1414.02" y="380.5" width="0.8" height="26.6"/><rect x="1411.92" y="381.1" width="5.0" height="20.3"/><rect x="1421.04" y="375.4" width="0.8" height="16.9"/><rect x="1421.04" y="401.4" width="0.8" height="2.9"/><rect x="1418.94" y="392.3" width="5.0" height="9.1"/><rect x="1419.74" y="393.1" width="3.4" height="7.5" fill="#fff"/><rect x="1428.06" y="392.0" width="0.8" height="14.4"/><rect x="1425.96" y="392.3" width="5.0" height="4.8"/><rect x="1435.08" y="384.1" width="0.8" height="39.0"/><rect x="1432.98" y="397.1" width="5.0" height="24.5"/><rect x="1442.10" y="420.0" width="0.8" height="12.2"/><rect x="1440.00" y="420.6" width="5.0" height="10.2"/></g>
<polyline fill="none" stroke="#3a3a3a" stroke-width="1.1" stroke-linejoin="round" points="3.4,556.14 10.42,556.66 17.44,563.19 24.46,558.37 31.48,559.74 38.5,561.6 45.52,562.94 52.54,569.84 59.56,558.65 66.58,547.03 73.6,539.77 80.62,542.48 87.64,539.08 94.66,543.27 101.68,546.23 108.7,537.11 115.72,535.76 122.74,542.42 129.76,544.15 136.78,537.93 143.8,530.8 150.82,527.67 157.84,530.51 164.86,528.25 171.88,530.48 178.9,527.91 185.92,528.12 192.94,525.37 199.96,536.88 206.98,530.53 214,533.23 221.02,540.54 228.04,537.82 235.06,538.82 242.08,533.9 249.1,525.25 256.12,525.65 263.14,535.38 270.16,535.48 277.18,538.46 284.2,535.11 291.22,532.67 298.24,539.85 305.26,543.42 312.28,542.37 319.3,546.6 326.32,554.47 333.34,557.7 340.36,546.49 347.38,538.61 354.4,537.45 361.42,537.45 368.44,544.41 375.46,537.78 382.48,535.54 389.5,531.42 396.52,532.84 403.54,537.63 410.56,538.03 417.58,534.68 424.6,529.06 431.62,530.26 438.64,531.79 445.66,530.02 452.68,526.35 459.7,524.3 466.72,536.18 473.74,527 480.76,523.58 487.78,524.99 494.8,520.34 501.82,517.23 508.84,513.13 515.86,523.14 522.88,529.34 529.9,524.15 536.92,520.66 543.94,529.49 550.96,540.54 557.98,539.64 565,529.92 572.02,523.11 579.04,520.43 586.06,521.99 593.08,517.07 600.1,515.15 607.12,514.37 614.14,514.37 621.16,517.58 628.18,516.26 635.2,515.83 642.22,520.65 649.24,519.14 656.26,514.97 663.28,512.34 670.3,523.06 677.32,527.69 684.34,529.8 691.36,535.44 698.38,531.16 705.4,531.34 712.42,536.06 719.44,539.02 726.46,544.08 733.48,540.48 740.5,530.63 747.52,540.22 754.54,551.01 761.56,555.03 768.58,558.49 775.6,558.2 782.62,559.74 789.64,561.89 796.66,562.46 803.68,555.85 810.7,537.09 817.72,547.46 824.74,549.76 831.76,556.6 838.78,556.88 845.8,556.92 852.82,561.03 859.84,551.93 866.86,549.02 873.88,543.38 880.9,548.13 887.92,540.03 894.94,540.03 901.96,534.78 908.98,534.93 916,536.73 923.02,535.69 930.04,530.35 937.06,527.14 944.08,529.31 951.1,529.45 958.12,521.8 965.14,528.3 972.16,529.72 979.18,526.71 986.2,530.79 993.22,540.1 1000.24,544.56 1007.26,552.42 1014.28,555.52 1021.3,542.48 1028.32,538.76 1035.34,546.08 1042.36,544.6 1049.38,542.93 1056.4,545.87 1063.42,547.97 1070.44,543.67 1077.46,544.5 1084.48,546.12 1091.5,548.09 1098.52,545.02 1105.54,551.41 1112.56,546.01 1119.58,550.68 1126.6,551.73 1133.62,545.08 1140.64,543.92 1147.66,552.26 1154.68,549.5 1161.7,549.52 1168.72,550.33 1175.74,544.64 1182.76,542.57 1189.78,532.99 1196.8,534.21 1203.82,529.67 1210.84,530.68 1217.86,527.41 1224.88,530.1 1231.9,524.61 1238.92,524.79 1245.94,524.98 1252.96,521.43 1259.98,535.66 1267,532.02 1274.02,530.1 1281.04,536.58 1288.06,529.21 1295.08,531.57 1302.1,521.31 1309.12,519.43 1316.14,518.17 1323.16,530.03 1330.18,530.03 1337.2,538.49 1344.22,540.38 1351.24,543.82 1358.26,543.86 1365.28,537.92 1372.3,539.85 1379.32,532.16 1386.34,540.59 1393.36,539.72 1400.38,543.75 1407.4,544.92 1414.42,549.46 1421.44,546.32 1428.46,547.45 1435.48,552.81 1442.5,554.64"/>
<rect x="1465.5" y="0" width="42.5" height="600" fill="#fff"/>
<rect x="0" y="579.5" width="1465.5" height="20.5" fill="#fff"/>
<line x1="1465.5" y1="0" x2="1465.5" y2="600" stroke="#787878" stroke-width="1"/>
<line x1="0" y1="579.5" x2="1508" y2="579.5" stroke="#787878" stroke-width="1"/>
<line x1="1465.5" y1="497" x2="1508" y2="497" stroke="#eaedf1" stroke-width="1.2"/>
<g class="ax"><text x="1471.6" y="24.55" textLength="30" lengthAdjust="spacingAndGlyphs" style="fill:#7a7a7a">0.78000</text><text x="1471.6" y="62.1" textLength="30" lengthAdjust="spacingAndGlyphs">0.77000</text><text x="1471.6" y="99.65" textLength="30" lengthAdjust="spacingAndGlyphs">0.76000</text><text x="1471.6" y="137.2" textLength="30" lengthAdjust="spacingAndGlyphs">0.75000</text><text x="1471.6" y="174.75" textLength="30" lengthAdjust="spacingAndGlyphs">0.74000</text><text x="1471.6" y="212.3" textLength="30" lengthAdjust="spacingAndGlyphs">0.73000</text><text x="1471.6" y="249.85" textLength="30" lengthAdjust="spacingAndGlyphs">0.72000</text><text x="1471.6" y="287.4" textLength="30" lengthAdjust="spacingAndGlyphs">0.71000</text><text x="1471.6" y="324.95" textLength="30" lengthAdjust="spacingAndGlyphs">0.70000</text><text x="1471.6" y="362.5" textLength="30" lengthAdjust="spacingAndGlyphs">0.69000</text><text x="1471.6" y="400.05" textLength="30" lengthAdjust="spacingAndGlyphs">0.68000</text><text x="1471.6" y="437.6" textLength="30" lengthAdjust="spacingAndGlyphs">0.67000</text><text x="1471.6" y="475.15" textLength="30" lengthAdjust="spacingAndGlyphs">0.66000</text><text x="1471.6" y="509" textLength="22" lengthAdjust="spacingAndGlyphs">75.00</text><text x="1471.6" y="538.8" textLength="22" lengthAdjust="spacingAndGlyphs">50.00</text><text x="1471.6" y="567.8" textLength="22" lengthAdjust="spacingAndGlyphs">25.00</text></g>
<path d="M1465.5 424.2 H1505.2 Q1506.8 424.2 1506.8 425.8 V437.1 Q1506.8 438.7 1505.2 438.7 H1465.5 Z" fill="#000"/>
<text x="1471.6" y="434.8" class="ax" fill="#fff" style="fill:#fff" textLength="30" lengthAdjust="spacingAndGlyphs">0.67089</text>
<text x="1471.4" y="11.9" class="ax" textLength="14.5" lengthAdjust="spacingAndGlyphs" style="fill:#50535e">USD</text>
<path d="M1487.6 7.6 L1489.2 9.2 L1490.8 7.6" fill="none" stroke="#666" stroke-width="0.8"/>
<g class="tx"><text x="38.5" y="594.2" text-anchor="middle" textLength="14" lengthAdjust="spacingAndGlyphs">Dec</text><text x="94.5" y="594.2" text-anchor="middle" textLength="8" lengthAdjust="spacingAndGlyphs">13</text><text x="199.5" y="594.2" text-anchor="middle" font-weight="bold" textLength="19" lengthAdjust="spacingAndGlyphs">2022</text><text x="270.5" y="594.2" text-anchor="middle" textLength="8" lengthAdjust="spacingAndGlyphs">17</text><text x="346.75" y="594.2" text-anchor="middle" textLength="13.5" lengthAdjust="spacingAndGlyphs">Feb</text><text x="410.5" y="594.2" text-anchor="middle" textLength="8" lengthAdjust="spacingAndGlyphs">14</text><text x="487.5" y="594.2" text-anchor="middle" textLength="14" lengthAdjust="spacingAndGlyphs">Mar</text><text x="551.25" y="594.2" text-anchor="middle" textLength="8" lengthAdjust="spacingAndGlyphs">14</text><text x="648.75" y="594.2" text-anchor="middle" textLength="13" lengthAdjust="spacingAndGlyphs">Apr</text><text x="727" y="594.2" text-anchor="middle" textLength="8" lengthAdjust="spacingAndGlyphs">18</text><text x="797" y="594.2" text-anchor="middle" textLength="14.5" lengthAdjust="spacingAndGlyphs">May</text><text x="867" y="594.2" text-anchor="middle" textLength="8" lengthAdjust="spacingAndGlyphs">16</text><text x="952" y="594.2" text-anchor="middle" textLength="13" lengthAdjust="spacingAndGlyphs">Jun</text><text x="1008" y="594.2" text-anchor="middle" textLength="8" lengthAdjust="spacingAndGlyphs">13</text><text x="1106.75" y="594.2" text-anchor="middle" textLength="11" lengthAdjust="spacingAndGlyphs">Jul</text><text x="1183.25" y="594.2" text-anchor="middle" textLength="8" lengthAdjust="spacingAndGlyphs">18</text><text x="1253.75" y="594.2" text-anchor="middle" textLength="14" lengthAdjust="spacingAndGlyphs">Aug</text><text x="1323.75" y="594.2" text-anchor="middle" textLength="8" lengthAdjust="spacingAndGlyphs">15</text><text x="1414.5" y="594.2" text-anchor="middle" textLength="14" lengthAdjust="spacingAndGlyphs">Sep</text></g>
<g transform="translate(1487.3,591.2) scale(0.9,1)"><circle r="3.1" fill="none" stroke="#2a2e39" stroke-width="1.2"/><g fill="#2a2e39"><polygon points="-1.35,-3.01 0.00,-5.30 1.35,-3.01"/><polygon points="1.18,-3.08 3.75,-3.75 3.08,-1.18"/><polygon points="3.01,-1.35 5.30,-0.00 3.01,1.35"/><polygon points="3.08,1.18 3.75,3.75 1.18,3.08"/><polygon points="1.35,3.01 0.00,5.30 -1.35,3.01"/><polygon points="-1.18,3.08 -3.75,3.75 -3.08,1.18"/><polygon points="-3.01,1.35 -5.30,0.00 -3.01,-1.35"/><polygon points="-3.08,-1.18 -3.75,-3.75 -1.18,-3.08"/></g></g>
<text x="4.96" y="13.9" class="lg" textLength="33.14" lengthAdjust="spacingAndGlyphs"><tspan class="lk">O</tspan>0.67361</text>
<text x="42.9" y="13.9" class="lg" textLength="33.00" lengthAdjust="spacingAndGlyphs"><tspan class="lk">H</tspan>0.67378</text>
<text x="80.9" y="13.9" class="lg" textLength="31.80" lengthAdjust="spacingAndGlyphs"><tspan class="lk">L</tspan>0.67040</text>
<text x="117" y="13.9" class="lg" textLength="33.00" lengthAdjust="spacingAndGlyphs"><tspan class="lk">C</tspan>0.67089</text>
<text x="154.5" y="13.9" class="lg" textLength="31.75" lengthAdjust="spacingAndGlyphs">−0.00272</text>
<text x="188.75" y="13.9" class="lg" textLength="30" lengthAdjust="spacingAndGlyphs">(−0.40%)</text>
<text x="5" y="30.8" class="lg lk" textLength="53" lengthAdjust="spacingAndGlyphs">MA 200 close 0</text>
<text x="62.5" y="30.8" class="lg" style="fill:#f57c00" textLength="28.75" lengthAdjust="spacingAndGlyphs">0.71178</text>
<text x="5.8" y="512" class="lg lk" textLength="41" lengthAdjust="spacingAndGlyphs">RSI 14 close</text>
<text x="52.8" y="512" class="lg" textLength="19.2" lengthAdjust="spacingAndGlyphs">33.23</text>
<g class="an"><text x="645.9" y="70.7" textLength="32.8" lengthAdjust="spacingAndGlyphs">.7661</text><text x="238" y="202.9" textLength="34.75" lengthAdjust="spacingAndGlyphs">.7314</text><text x="34.2" y="342.7" textLength="34.5" lengthAdjust="spacingAndGlyphs">.6993</text><text x="308.75" y="348" textLength="34.75" lengthAdjust="spacingAndGlyphs">.6976</text><text x="947.75" y="208.9" textLength="34.25" lengthAdjust="spacingAndGlyphs">.7283</text><text x="997" y="395.6" textLength="33" lengthAdjust="spacingAndGlyphs">.6851</text><text x="1151.2" y="462.7" textLength="32.8" lengthAdjust="spacingAndGlyphs">.6681</text><text x="1257" y="388.9" textLength="35.25" lengthAdjust="spacingAndGlyphs">.6870</text><text x="1292.2" y="263.7" textLength="34.4" lengthAdjust="spacingAndGlyphs">.7136</text><text x="1341.1" y="391.75" textLength="34.9" lengthAdjust="spacingAndGlyphs">.6856</text></g>
<text x="47.3" y="362.9" class="an" style="font-size:13px" textLength="9.4" lengthAdjust="spacingAndGlyphs">iii</text>
<text x="1185.7" y="242.5" font-weight="bold" font-size="13.5" fill="#f57c00" textLength="65.4" lengthAdjust="spacingAndGlyphs" style="font-family:'Liberation Sans',sans-serif">200 day ma</text>
<text x="604.3" y="33.7" font-size="30.6" fill="#000" textLength="234.9" lengthAdjust="spacingAndGlyphs" style="font-family:'Liberation Sans',sans-serif">AUDUSD DAILY CHART</text>
</svg></body></html>
